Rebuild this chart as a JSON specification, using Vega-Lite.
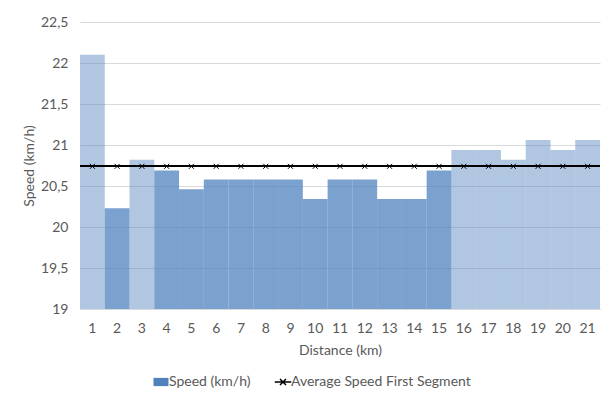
{
  "$schema": "https://vega.github.io/schema/vega-lite/v6.json",
  "width": 520,
  "height": 287,
  "autosize": {"type": "none"},
  "padding": {"left": 80, "top": 22, "right": 2, "bottom": 92},
  "background": "white",
  "config": {
    "font": "Lato",
    "view": {"stroke": null},
    "axis": {"labelColor": "#595959", "titleColor": "#595959", "labelFont": "Lato", "titleFont": "Lato", "labelFontSize": 14, "titleFontSize": 14, "titleFontWeight": "normal", "ticks": false, "gridColor": "#D9D9D9", "domainColor": "#D9D9D9"}
  },
  "datasets": {
    "speed": [
      {"km": 1, "speed": 22.1, "series": "Speed (km/h)"},
      {"km": 2, "speed": 20.23, "series": "Speed (km/h)"},
      {"km": 3, "speed": 20.82, "series": "Speed (km/h)"},
      {"km": 4, "speed": 20.69, "series": "Speed (km/h)"},
      {"km": 5, "speed": 20.46, "series": "Speed (km/h)"},
      {"km": 6, "speed": 20.58, "series": "Speed (km/h)"},
      {"km": 7, "speed": 20.58, "series": "Speed (km/h)"},
      {"km": 8, "speed": 20.58, "series": "Speed (km/h)"},
      {"km": 9, "speed": 20.58, "series": "Speed (km/h)"},
      {"km": 10, "speed": 20.34, "series": "Speed (km/h)"},
      {"km": 11, "speed": 20.58, "series": "Speed (km/h)"},
      {"km": 12, "speed": 20.58, "series": "Speed (km/h)"},
      {"km": 13, "speed": 20.34, "series": "Speed (km/h)"},
      {"km": 14, "speed": 20.34, "series": "Speed (km/h)"},
      {"km": 15, "speed": 20.69, "series": "Speed (km/h)"},
      {"km": 16, "speed": 20.94, "series": "Speed (km/h)"},
      {"km": 17, "speed": 20.94, "series": "Speed (km/h)"},
      {"km": 18, "speed": 20.82, "series": "Speed (km/h)"},
      {"km": 19, "speed": 21.06, "series": "Speed (km/h)"},
      {"km": 20, "speed": 20.94, "series": "Speed (km/h)"},
      {"km": 21, "speed": 21.06, "series": "Speed (km/h)"}
    ],
    "avg": [
      {"km": 1, "speed": 20.74, "series": "Average Speed First Segment"},
      {"km": 2, "speed": 20.74, "series": "Average Speed First Segment"},
      {"km": 3, "speed": 20.74, "series": "Average Speed First Segment"},
      {"km": 4, "speed": 20.74, "series": "Average Speed First Segment"},
      {"km": 5, "speed": 20.74, "series": "Average Speed First Segment"},
      {"km": 6, "speed": 20.74, "series": "Average Speed First Segment"},
      {"km": 7, "speed": 20.74, "series": "Average Speed First Segment"},
      {"km": 8, "speed": 20.74, "series": "Average Speed First Segment"},
      {"km": 9, "speed": 20.74, "series": "Average Speed First Segment"},
      {"km": 10, "speed": 20.74, "series": "Average Speed First Segment"},
      {"km": 11, "speed": 20.74, "series": "Average Speed First Segment"},
      {"km": 12, "speed": 20.74, "series": "Average Speed First Segment"},
      {"km": 13, "speed": 20.74, "series": "Average Speed First Segment"},
      {"km": 14, "speed": 20.74, "series": "Average Speed First Segment"},
      {"km": 15, "speed": 20.74, "series": "Average Speed First Segment"},
      {"km": 16, "speed": 20.74, "series": "Average Speed First Segment"},
      {"km": 17, "speed": 20.74, "series": "Average Speed First Segment"},
      {"km": 18, "speed": 20.74, "series": "Average Speed First Segment"},
      {"km": 19, "speed": 20.74, "series": "Average Speed First Segment"},
      {"km": 20, "speed": 20.74, "series": "Average Speed First Segment"},
      {"km": 21, "speed": 20.74, "series": "Average Speed First Segment"}
    ]
  },
  "layer": [
    {
      "data": {"name": "speed"},
      "mark": {"type": "bar", "strokeWidth": 0},
      "encoding": {
        "x": {"field": "km", "type": "ordinal", "sort": null, "scale": {"paddingInner": 0, "paddingOuter": 0},
              "axis": {"title": "Distance (km)", "labelAngle": 0, "labelPadding": 12, "titlePadding": 8, "domain": true, "grid": false}},
        "y": {"field": "speed", "type": "quantitative", "scale": {"domain": [19, 22.5], "zero": false, "nice": false},
              "axis": {"title": "Speed (km/h)", "values": [19, 19.5, 20, 20.5, 21, 21.5, 22, 22.5], "labelExpr": "replace(format(datum.value, ''), '.', ',')", "labelPadding": 12, "titlePadding": 4, "domain": false, "grid": true}},
        "y2": {"datum": 19},
        "color": {"field": "series", "type": "nominal",
                  "scale": {"domain": ["Speed (km/h)", "Average Speed First Segment"], "range": ["#4F81BD", "#000000"]},
                  "legend": {"title": null, "orient": "none", "legendX": 74, "legendY": 353, "direction": "horizontal",
                             "labelFont": "Lato", "labelFontSize": 14, "labelColor": "#595959", "labelLimit": 0, "symbolSize": 225, "columnPadding": 20, "labelOffset": 1,
                             "symbolOpacity": 1, "symbolStrokeWidth": 1.5,
                             "encode": {"symbols": {"update": {
                               "shape": {"signal": "datum.value === 'Speed (km/h)' ? 'M-1,-0.55L1,-0.55L1,0.55L-1,0.55Z' : 'M-1.1,0L1.1,0M-0.4,-0.4L0.4,0.4M0.4,-0.4L-0.4,0.4'"},
                               "fill": {"scale": "color", "field": "value"},
                               "stroke": {"scale": "color", "field": "value"},
                               "strokeWidth": {"signal": "datum.value === 'Speed (km/h)' ? 0 : 1.5"},
                               "opacity": {"value": 1}
                             }}}}},
        "opacity": {"condition": {"test": "datum.speed < 20.74", "value": 0.75}, "value": 0.45}
      }
    },
    {
      "data": {"name": "avg"},
      "mark": {"type": "rule", "color": "#000000", "strokeWidth": 1.6},
      "encoding": {
        "y": {"field": "speed", "type": "quantitative"}
      }
    },
    {
      "data": {"name": "avg"},
      "mark": {"type": "point", "filled": false, "strokeWidth": 1, "size": 25, "opacity": 1},
      "encoding": {
        "x": {"field": "km", "type": "ordinal", "sort": null},
        "y": {"field": "speed", "type": "quantitative"},
        "color": {"field": "series", "type": "nominal"},
        "shape": {"value": "M-1,-1L1,1M1,-1L-1,1"}
      }
    }
  ]
}
